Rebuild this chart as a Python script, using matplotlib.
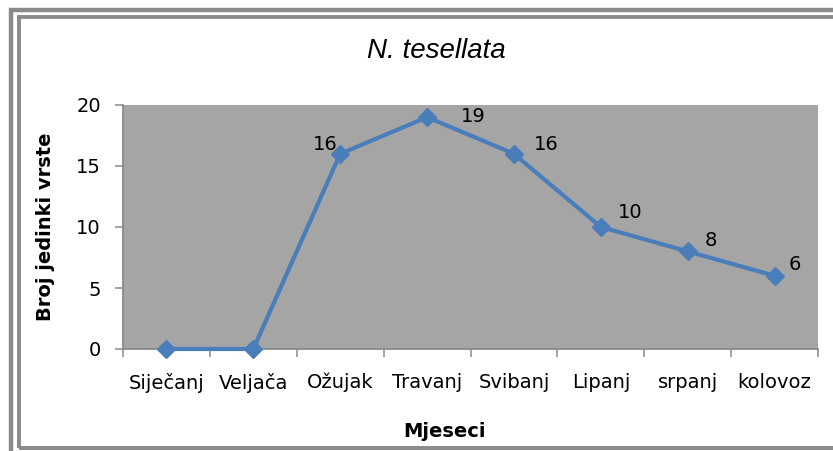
import matplotlib.pyplot as plt
from matplotlib.patches import Rectangle

months = ['Siječanj', 'Veljača', 'Ožujak', 'Travanj', 'Svibanj', 'Lipanj', 'srpanj', 'kolovoz']
counts = [0, 0, 16, 19, 16, 10, 8, 6]
# label offsets in pixels (dx, dy, ha), Excel-style placement
label_offsets = [None, None, (-3, 9, 'right'), (34, 1, 'left'), (20, 9, 'left'),
                 (17, 14, 'left'), (17, 11, 'left'), (14, 11, 'left')]

plt.rcParams['font.family'] = ['DejaVu Sans']

fig = plt.figure(figsize=(8.33, 4.51), dpi=100)
W, H = 833, 451

# double gray frame (Excel chart border), cropped at right/bottom
fig.patches.append(Rectangle((11 / W, -0.1), 1.2, (451 - 10) / H + 0.1,
                             transform=fig.transFigure, fill=False,
                             edgecolor='#8a8a8a', linewidth=3.2))
fig.patches.append(Rectangle((18.5 / W, 1 - 448 / H), 1.2, (448 - 17) / H,
                             transform=fig.transFigure, fill=False,
                             edgecolor='#8a8a8a', linewidth=2.8))

ax = fig.add_axes([123 / W, 1 - 349 / H, (818 - 123) / W, (349 - 105) / H])
ax.set_facecolor('#a5a5a5')

x = list(range(len(months)))
ax.plot(x, counts, color='#4a7ebb', linewidth=3, marker='D', markersize=9,
        markeredgecolor='#4a7ebb', markerfacecolor='#4a7ebb', zorder=3, clip_on=False)

for xi, yi, off in zip(x, counts, label_offsets):
    if off is None:
        continue
    ax.annotate(str(yi), (xi, yi), xytext=(off[0], off[1]), textcoords='offset pixels',
                ha=off[2], va='center', fontsize=14, color='black')

ax.set_xlim(-0.5, len(months) - 0.5)
ax.set_ylim(0, 20)
ax.set_yticks([0, 5, 10, 15, 20])
ax.set_xticks(x)
ax.set_xticklabels(months)
ax.set_xticks([i - 0.5 for i in range(len(months) + 1)], minor=True)

for s in ['top', 'right']:
    ax.spines[s].set_visible(False)
for s in ['left', 'bottom']:
    ax.spines[s].set_color('#8a8a8a')
    ax.spines[s].set_linewidth(1.3)

ax.tick_params(axis='y', length=6, width=1.1, color='#8a8a8a', pad=10, labelsize=14)
ax.tick_params(axis='x', which='major', length=0, pad=17, labelsize=14)
ax.tick_params(axis='x', which='minor', length=6, width=1.1, color='#8a8a8a')

ax.set_ylabel('Broj jedinki vrste', fontsize=14, fontweight='bold', labelpad=15)
ax.set_xlabel('Mjeseci', fontsize=14, fontweight='bold')
ax.xaxis.set_label_coords(0.463, -0.30)

fig.text(436 / W, 1 - 51 / H, 'N. tesellata', fontsize=20, style='italic',
         family='Liberation Sans', ha='center', va='center')

fig.savefig('out.png', dpi=100)
